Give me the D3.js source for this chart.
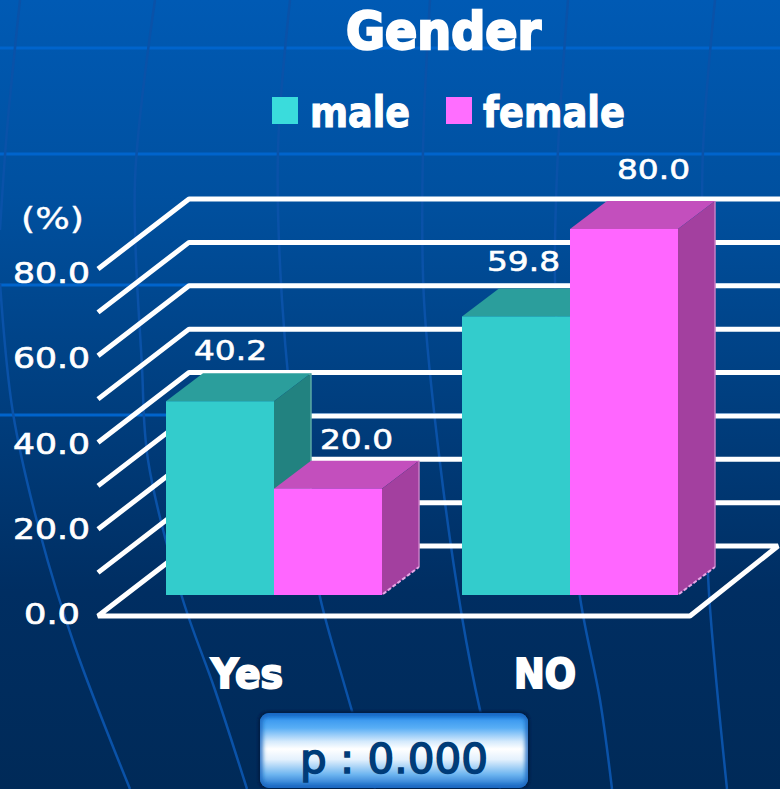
<!DOCTYPE html>
<html><head><meta charset="utf-8">
<script src="https://cdnjs.cloudflare.com/ajax/libs/d3/7.8.5/d3.min.js"></script>
<style>html,body{margin:0;padding:0;background:#002a5c}svg{display:block}</style>
</head><body><div id="chart"></div>
<script>
const title = "Gender";
const categories = ["Yes", "NO"];
const seriesNames = ["male", "female"];
const male = [40.2, 59.8];
const female = [20.0, 80.0];
const tickValues = [0, 20, 40, 60, 80];
const gridValues = [0, 10, 20, 30, 40, 50, 60, 70, 80];
const unitLabel = "(%)";
const pLabel = "p : 0.000";

// decorative backdrop
const globeRows = [48, 154, 285, 415];
const globeCols = [
  [[20,0],[7,130],[0,230]],
  [[0,283],[13,413],[40,533],[75,647],[130,789]],
  [[155,0],[135,180],[142,367],[148,460],[182,597],[215,690],[247,789]],
  [[290,0],[278,150],[282,300],[300,480],[320,597],[345,687],[375,789]],
  [[430,0],[423,150],[424,300],[440,463],[462,617],[480,710],[500,789]],
  [[568,0],[558,150],[555,280],[565,450],[580,597],[600,700],[612,789]],
  [[715,0],[703,150],[703,300],[708,575],[715,667],[727,789]]
];

const W = 780, H = 789;
const svg = d3.select("#chart").append("svg").attr("width", W).attr("height", H);
const defs = svg.append("defs");
const bg = defs.append("linearGradient").attr("id","bg").attr("x1",0).attr("x2",0).attr("y1",0).attr("y2",1);
[[0,"#005ab4"],[0.25,"#00509f"],[0.5,"#003f80"],[0.75,"#002e62"],[1,"#002a58"]].forEach(s=>bg.append("stop").attr("offset",s[0]).attr("stop-color",s[1]));
const bt = defs.append("linearGradient").attr("id","box").attr("x1",0).attr("x2",0).attr("y1",0).attr("y2",1);
[[0,"#0f6bd0"],[0.1,"#3f9cf0"],[0.2,"#59aef5"],[0.38,"#d5eafc"],[0.48,"#ffffff"],[0.62,"#e4f1fd"],[0.82,"#6db5f0"],[1,"#1a6ac8"]].forEach(s=>bt.append("stop").attr("offset",s[0]).attr("stop-color",s[1]));
defs.append("filter").attr("id","soft").append("feGaussianBlur").attr("stdDeviation",1.2);
defs.append("filter").attr("id","soft2").append("feGaussianBlur").attr("stdDeviation",2.2);
defs.append("clipPath").attr("id","boxclip").append("rect").attr("x",260).attr("y",713).attr("width",268).attr("height",75).attr("rx",9);

svg.append("rect").attr("width",W).attr("height",H).attr("fill","url(#bg)");
svg.selectAll(".row").data(globeRows).join("line").attr("x1",0).attr("x2",W)
  .attr("y1",d=>d).attr("y2",d=>d).attr("stroke","#0064cc").attr("stroke-width",3);
const curve = d3.line().curve(d3.curveCatmullRom);
svg.selectAll(".col").data(globeCols).join("path").attr("d",curve).attr("fill","none")
  .attr("stroke","#0a52a8").attr("stroke-width",2.5);

// scales
const gridY = d3.scaleLinear().domain([0,80]).range([546,199]);
const barY = d3.scaleLinear().domain([0,80]).range([575.2,229]);
const groupStart = d3.scaleOrdinal().domain(categories).range([166,462]);
const barW = 108, depthX = 37, depthY = 28, barBase = 595;
const wallX = 189, frontX = 98, floorDY = 70;

// grid
const grid = svg.append("g").attr("fill","none").attr("stroke","#fff").attr("stroke-width",5).attr("stroke-linejoin","bevel");
grid.selectAll("path").data(gridValues.filter(v=>v>0)).join("path")
  .attr("d",v=>`M${frontX},${gridY(v)+floorDY}L${wallX},${gridY(v)}L${W},${gridY(v)}`);
grid.append("path").attr("d",`M${frontX},${gridY(0)+floorDY}L690,${gridY(0)+floorDY}L778,${gridY(0)}L${wallX},${gridY(0)}Z`);

// bars
const colors = {
  male:{front:"#33cccc",top:"#2b9e9c",side:"#228280",edge:"#5aa8a6"},
  female:{front:"#ff66ff",top:"#c34fbd",side:"#a3409f",edge:"#c77cc4"}
};
const rows = [];
categories.forEach((c,i)=>{
  rows.push({cat:c,name:"male",value:male[i],x:groupStart(c)});
  rows.push({cat:c,name:"female",value:female[i],x:groupStart(c)+barW});
});
const bars = svg.append("g").selectAll("g").data(rows).join("g");
bars.append("path").attr("fill",d=>colors[d.name].top)
  .attr("d",d=>{const y=barY(d.value);return `M${d.x},${y}L${d.x+depthX},${y-depthY}L${d.x+barW+depthX},${y-depthY}L${d.x+barW},${y}Z`;});
bars.append("path").attr("fill",d=>colors[d.name].side)
  .attr("d",d=>{const y=barY(d.value),r=d.x+barW;return `M${r},${y}L${r+depthX},${y-depthY}L${r+depthX},${barBase-depthY}L${r},${barBase}Z`;});
bars.append("line").attr("stroke",d=>colors[d.name].edge).attr("stroke-width",1.5)
  .attr("x1",d=>d.x+barW+depthX).attr("x2",d=>d.x+barW+depthX)
  .attr("y1",d=>barY(d.value)-depthY).attr("y2",barBase-depthY);
bars.filter(d=>d.name==="female").append("line").attr("stroke","#e6a6e6").attr("stroke-width",2).attr("stroke-dasharray","4 2")
  .attr("x1",d=>d.x+barW+1).attr("y1",barBase-1).attr("x2",d=>d.x+barW+depthX).attr("y2",barBase-depthY);
bars.append("rect").attr("fill",d=>colors[d.name].front)
  .attr("x",d=>d.x).attr("width",barW).attr("y",d=>barY(d.value)).attr("height",d=>barBase-barY(d.value));

// text helper: fitted to the width seen in the reference
function label(txt,x,y,size,len,opt={}){
  const t = svg.append("text").text(txt).attr("x",x).attr("y",y)
    .attr("font-family",opt.family||"DejaVu Sans").attr("font-size",size)
    .attr("font-weight",opt.weight||"normal").attr("fill",opt.fill||"#fff")
    .attr("textLength",len).attr("lengthAdjust","spacingAndGlyphs");
  if(opt.stroke) t.attr("stroke",opt.fill||"#fff").attr("stroke-width",opt.stroke);
  return t;
}
// y axis
const tickBase = d3.scaleLinear().domain([0,80]).range([624,283]);
tickValues.forEach(v=>{
  const s = d3.format(".1f")(v);
  const len = s.length===3?56:77;
  label(s,(s.length===3?24:13),tickBase(v),28.5,len,{stroke:.7});
});
label(unitLabel,21,229,30,63,{stroke:.4});

// data labels
const labelPos = {"Yes-male":[194,360],"Yes-female":[320,449],"NO-male":[487,271],"NO-female":[617,179]};
rows.forEach(d=>{
  const p = labelPos[d.cat+"-"+d.name];
  label(d3.format(".1f")(d.value),p[0],p[1],27,73,{stroke:.6});
});

// category labels
label(categories[0],211,688,40,72,{weight:"bold",stroke:2});
label(categories[1],514,688,40,62,{weight:"bold",stroke:2});

// title + legend
label(title,346,49,52,195,{weight:"bold",stroke:2.5});
svg.append("rect").attr("x",272).attr("y",97).attr("width",26).attr("height",27).attr("fill","#3adcdc");
svg.append("rect").attr("x",446).attr("y",97).attr("width",26).attr("height",27).attr("fill","#ff6eff");
label(seriesNames[0],310,127,42,100,{weight:"bold",stroke:1.2});
label(seriesNames[1],483,127,42,142,{weight:"bold",stroke:1.2});

// p value box
svg.append("rect").attr("x",258).attr("y",711).attr("width",272).attr("height",78).attr("rx",10).attr("fill","#001f45").attr("filter","url(#soft)");
svg.append("rect").attr("x",260).attr("y",713).attr("width",268).attr("height",75).attr("rx",9).attr("fill","url(#box)");
svg.append("g").attr("clip-path","url(#boxclip)").append("rect").attr("x",260).attr("y",713).attr("width",268).attr("height",75).attr("rx",9)
  .attr("fill","none").attr("stroke","#1a68c0").attr("stroke-width",5).attr("filter","url(#soft2)");
label(pLabel,300,773,41,188,{fill:"#003c78",stroke:1.5});
</script></body></html>
